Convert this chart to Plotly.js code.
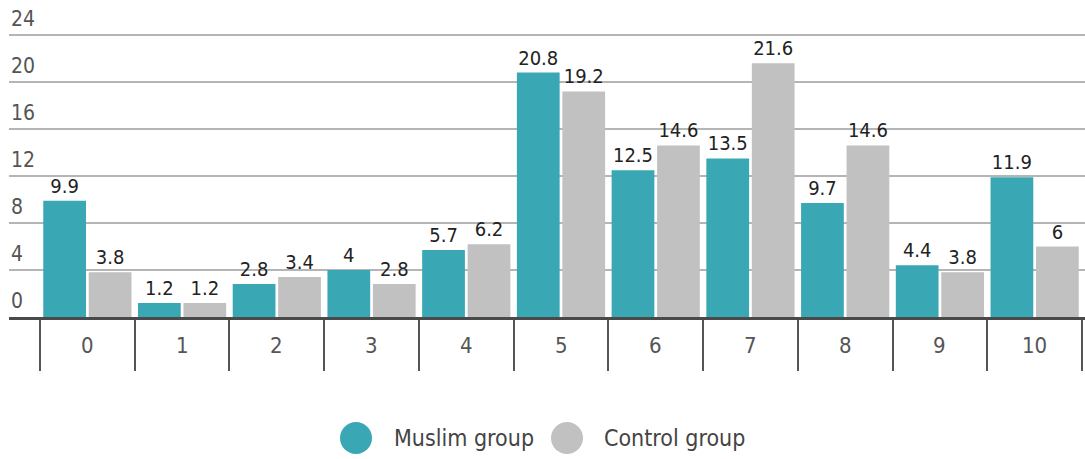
<!DOCTYPE html>
<html>
<head>
<meta charset="utf-8">
<script src="https://cdn.plot.ly/plotly-3.0.1.min.js"></script>
<style>html,body{margin:0;padding:0;background:#fff;}#chart{width:1085px;height:459px;}</style>
</head>
<body>
<div id="chart"></div>
<script>
const categories = [0, 1, 2, 3, 4, 5, 6, 7, 8, 9, 10];
const categoryLabels = ["0", "1", "2", "3", "4", "5", "6", "7", "8", "9", "10"];
const muslimValues = [9.9, 1.2, 2.8, 4, 5.7, 20.8, 12.5, 13.5, 9.7, 4.4, 11.9];
const controlValues = [3.8, 1.2, 3.4, 2.8, 6.2, 19.2, 14.6, 21.6, 14.6, 3.8, 6];
const seriesNames = ["Muslim group", "Control group"];
const yTicks = [0, 4, 8, 12, 16, 20, 24];

const FONT = '"Liberation Sans Narrow", "DejaVu Sans Condensed", "Roboto Condensed", Roboto, sans-serif';
const TEAL = '#3aa7b5';
const GREY = '#c1c1c1';

// plot area in pixels (y=0 at 317px, 11.75 px per unit)
const PXU = 11.75;
const L = 9, T = 30, W = 1076, H = 287;
const yTop = H / PXU;
const px2x = p => (p - L) / W;
const px2y = p => (T + H - p) / H;

const dividers = categories.map(c => c - 0.5).concat([categories[categories.length - 1] + 0.5]);

const traces = [
  {type: 'bar', name: seriesNames[0], x: categories, y: muslimValues,
   marker: {color: TEAL}, text: muslimValues.map(String), textposition: 'outside',
   textfont: {family: FONT, size: 20, color: '#222'}, cliponaxis: false, showlegend: false, hoverinfo: 'y'},
  {type: 'bar', name: seriesNames[1], x: categories, y: controlValues,
   marker: {color: GREY}, text: controlValues.map(String), textposition: 'outside',
   textfont: {family: FONT, size: 20, color: '#222'}, cliponaxis: false, showlegend: false, hoverinfo: 'y'}
];

const annotations = categories.map((c, i) => ({
  x: c, xref: 'x', y: px2y(345), yref: 'paper', text: categoryLabels[i], showarrow: false,
  xanchor: 'center', yanchor: 'middle', font: {family: FONT, size: 22, color: '#555'}
}));
yTicks.forEach(v => annotations.push({
  x: px2x(9), xref: 'paper', y: v, yref: 'y', yshift: 16, text: String(v), showarrow: false,
  xanchor: 'left', yanchor: 'middle', font: {family: FONT, size: 21, color: '#555'}
}));
annotations.push({x: px2x(392), xref: 'paper', y: px2y(438), yref: 'paper', text: seriesNames[0], showarrow: false,
  xanchor: 'left', yanchor: 'middle', font: {family: FONT, size: 23, color: '#444'}});
annotations.push({x: px2x(602), xref: 'paper', y: px2y(438), yref: 'paper', text: seriesNames[1], showarrow: false,
  xanchor: 'left', yanchor: 'middle', font: {family: FONT, size: 23, color: '#444'}});

const legendCircle = (cx, color) => ({
  type: 'circle', xref: 'paper', yref: 'paper', xsizemode: 'pixel', ysizemode: 'pixel',
  xanchor: px2x(cx), yanchor: px2y(438), x0: -16, x1: 16, y0: -16, y1: 16,
  fillcolor: color, line: {width: 0}
});

const catW = (1082 - 40) / 11;
const layout = {
  width: 1085, height: 459,
  margin: {l: L, r: 1085 - L - W, t: T, b: 459 - T - H},
  paper_bgcolor: '#fff', plot_bgcolor: '#fff',
  barmode: 'group', bargap: 0.04, bargroupgap: 0.06,
  showlegend: false,
  font: {family: FONT, color: '#555'},
  xaxis: {
    range: [-0.5 - 31 / catW, 10.5 + 3 / catW],
    tickmode: 'array', tickvals: dividers, showticklabels: false,
    ticks: 'outside', ticklen: 51, tickwidth: 2, tickcolor: '#555',
    showgrid: false, zeroline: false, showline: true, linecolor: '#4a4a4a', linewidth: 3,
    fixedrange: true
  },
  yaxis: {
    range: [0, yTop], tickmode: 'array', tickvals: yTicks, showticklabels: false,
    ticks: '',
    showgrid: true, gridcolor: '#b5b5b5', gridwidth: 2, zeroline: false, showline: false,
    fixedrange: true
  },
  annotations: annotations,
  shapes: [legendCircle(356, TEAL), legendCircle(567, GREY)]
};

Plotly.newPlot('chart', traces, layout, {displayModeBar: false, staticPlot: true});
</script>
</body>
</html>
